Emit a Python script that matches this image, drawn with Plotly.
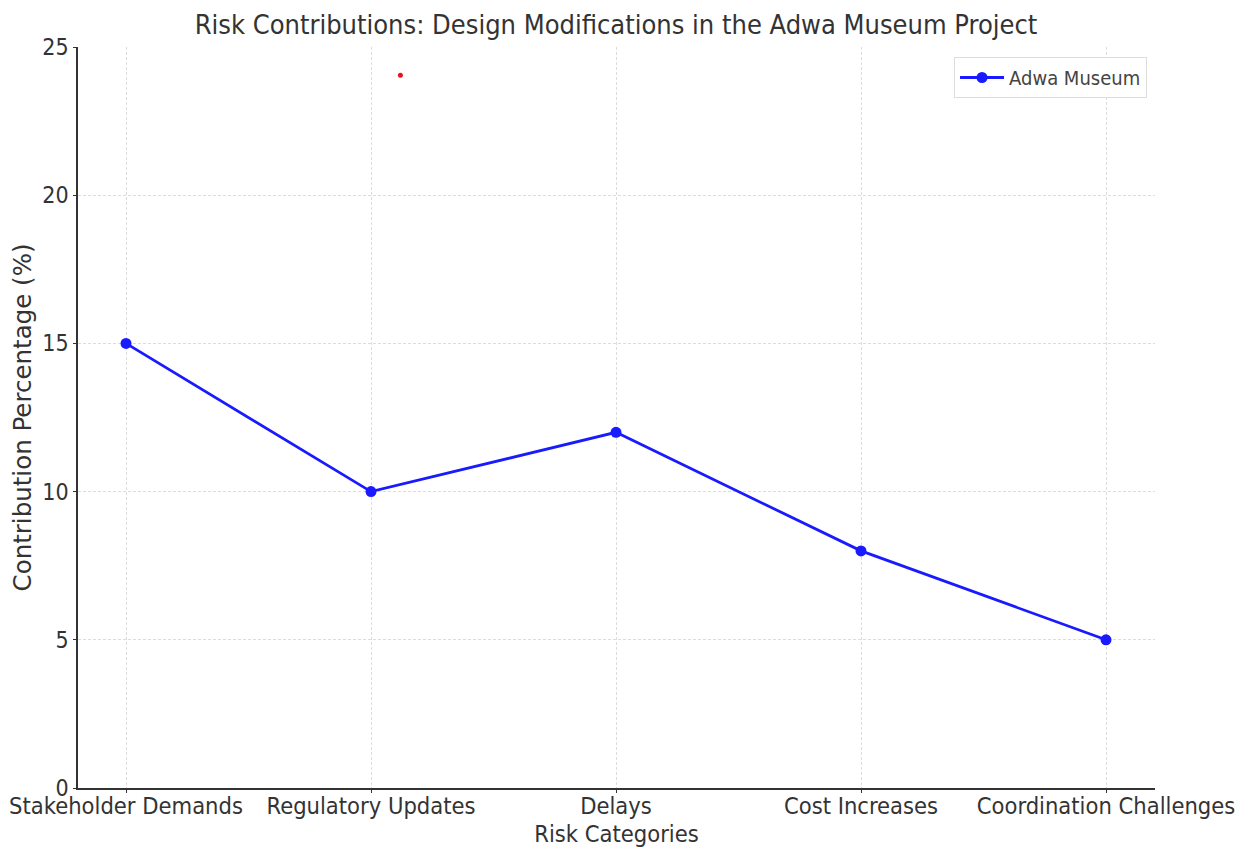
import plotly.graph_objects as go

categories = ["Stakeholder Demands", "Regulatory Updates", "Delays", "Cost Increases", "Coordination Challenges"]
values = [15, 10, 12, 8, 5]
y_ticks = [0, 5, 10, 15, 20, 25]
stray_x = [1.12]
stray_y = [24.05]

FONT = "DejaVu Sans Condensed, Liberation Sans Narrow, DejaVu Sans, sans-serif"
FONT_REG = "DejaVu Sans, sans-serif"
xpos = list(range(len(categories)))

fig = go.Figure()
fig.add_trace(go.Scatter(
    x=xpos, y=values, mode="lines+markers", name="Adwa Museum",
    line=dict(color="#1a1aff", width=2.8),
    marker=dict(color="#1a1aff", size=11),
))
fig.add_trace(go.Scatter(
    x=stray_x, y=stray_y, mode="markers", showlegend=False, hoverinfo="skip",
    marker=dict(color="#e0161e", size=5),
))

fig.update_layout(
    width=1234, height=840,
    paper_bgcolor="white", plot_bgcolor="white",
    margin=dict(l=70, r=87, t=39, b=60),
    font=dict(family=FONT, color="#333333", size=23),
    title=dict(text="Risk Contributions: Design Modifications in the Adwa Museum Project",
               x=0.4927, xanchor="center", y=0.980, yanchor="middle",
               font=dict(size=27, color="#333333", family=FONT)),
    legend=dict(x=0.9926, y=0.9865, xanchor="right", yanchor="top",
                bgcolor="white", bordercolor="#dddddd", borderwidth=1,
                itemwidth=44,
                font=dict(size=20, color="#444444", family=FONT)),
    showlegend=True,
)
fig.update_xaxes(
    range=[-0.196, 4.2], tickmode="array", tickvals=xpos, ticktext=categories,
    showgrid=True, gridcolor="#dcdcdc", griddash="3px,2px", gridwidth=1,
    showline=True, linecolor="#333333", linewidth=1.5,
    ticks="outside", ticklen=3, tickcolor="#333333",
    ticklabelstandoff=-7,
    zeroline=False, automargin=False,
    tickfont=dict(size=23.5, family=FONT, color="#333333"),
    title=dict(text="Risk Categories", standoff=9, font=dict(size=23.5, family=FONT, color="#333333")),
)
fig.update_yaxes(
    range=[0, 25], tickmode="array", tickvals=y_ticks,
    showgrid=True, gridcolor="#dcdcdc", griddash="3px,2px", gridwidth=1,
    showline=True, linecolor="#333333", linewidth=1.5,
    ticks="outside", ticklen=3, tickcolor="#333333",
    zeroline=False, automargin=False,
    tickfont=dict(size=23, family=FONT, color="#333333"),
    title=dict(text="Contribution Percentage (%)", standoff=10, font=dict(size=24.5, family=FONT_REG, color="#333333")),
)

fig.write_html("out.html")
